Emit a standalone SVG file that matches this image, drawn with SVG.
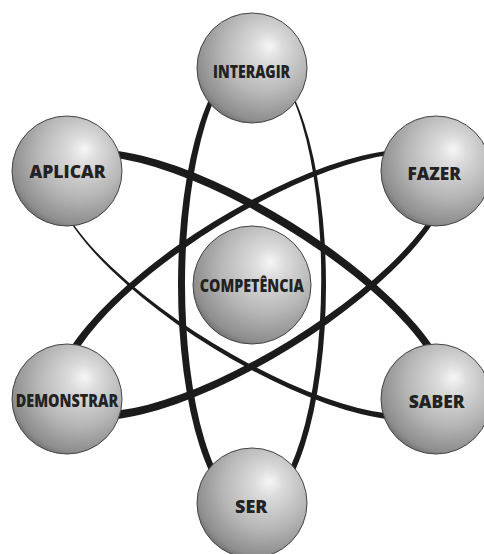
<svg xmlns="http://www.w3.org/2000/svg" width="484" height="554" viewBox="0 0 484 554">
  <defs>
    <radialGradient id="ball" cx="0.6" cy="0.38" r="0.72" fx="0.66" fy="0.3">
      <stop offset="0" stop-color="#f6f6f6"/>
      <stop offset="0.18" stop-color="#dcdcdc"/>
      <stop offset="0.55" stop-color="#b6b6b6"/>
      <stop offset="0.85" stop-color="#8e8e8e"/>
      <stop offset="1" stop-color="#585858"/>
    </radialGradient>
    <style>
      .orbit { fill: #1b1b1b; fill-rule: evenodd; }
      .ball { fill: url(#ball); stroke: #444444; stroke-width: 1; }
      .label { font-family: "Open Sans", "Liberation Sans", sans-serif; font-weight: 800; font-size: 18px; fill: #222222; text-anchor: middle; }
    </style>
  </defs>
  <rect width="484" height="554" fill="#ffffff"/>

  <!-- three orbits: each is a ring between an outer and a slightly offset inner ellipse -->
  <g id="connectors">
    <path class="orbit" transform="translate(252 285) rotate(90)"
          d="M-228 0 A228 74 0 1 0 228 0 A228 74 0 1 0 -228 0Z
             M-227.11 -2.03 A223.55 68.1 0.23 1 0 219.99 -0.22 A223.55 68.1 0.23 1 0 -227.11 -2.03Z"/>
    <path class="orbit" transform="translate(252 285) rotate(31.7)"
          d="M-228 0 A228 74 0 1 0 228 0 A228 74 0 1 0 -228 0Z
             M-224 3.37 A221.2 68 -0.355 1 0 218.4 0.63 A221.2 68 -0.355 1 0 -224 3.37Z"/>
    <path class="orbit" transform="translate(252 285) rotate(-31.7)"
          d="M-228 0 A228 74 0 1 0 228 0 A228 74 0 1 0 -228 0Z
             M-215.5 -0.5 A219.4 67.5 0 1 0 223.3 -0.5 A219.4 67.5 0 1 0 -215.5 -0.5Z"/>
  </g>

  <g id="interagir">
    <circle class="ball" cx="252" cy="68" r="55"/>
    <text class="label" x="251.6" y="78" textLength="77" lengthAdjust="spacingAndGlyphs">INTERAGIR</text>
  </g>
  <g id="aplicar">
    <circle class="ball" cx="67" cy="171" r="55"/>
    <text class="label" x="67.6" y="178.3" textLength="76" lengthAdjust="spacingAndGlyphs">APLICAR</text>
  </g>
  <g id="fazer">
    <circle class="ball" cx="436" cy="171" r="55"/>
    <text class="label" x="434.2" y="179.5" textLength="53.5" lengthAdjust="spacingAndGlyphs">FAZER</text>
  </g>
  <g id="competencia">
    <circle class="ball" cx="252" cy="285" r="59"/>
    <text class="label" x="251.8" y="291.5" textLength="104" lengthAdjust="spacingAndGlyphs">COMPETÊNCIA</text>
  </g>
  <g id="demonstrar">
    <circle class="ball" cx="67" cy="399" r="55"/>
    <text class="label" x="67" y="406.5" textLength="102.5" lengthAdjust="spacingAndGlyphs">DEMONSTRAR</text>
  </g>
  <g id="saber">
    <circle class="ball" cx="436" cy="399" r="55"/>
    <text class="label" x="436.7" y="407.7" textLength="56" lengthAdjust="spacingAndGlyphs">SABER</text>
  </g>
  <g id="ser">
    <circle class="ball" cx="252" cy="503" r="55"/>
    <text class="label" x="251.2" y="513.3" textLength="32.3" lengthAdjust="spacingAndGlyphs">SER</text>
  </g>
</svg>
